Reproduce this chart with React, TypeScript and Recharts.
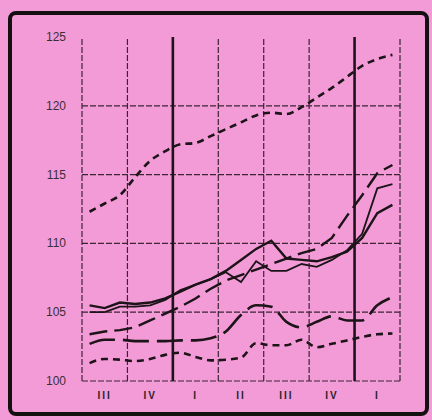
import React from 'react';
import { LineChart, Line, XAxis, YAxis, ReferenceLine } from 'recharts';

// 21 months, Q3 of year 1 through Q1 of year 3
const months = ['Jul','Aug','Sep','Oct','Nov','Dec','Jan','Feb','Mar','Apr','May','Jun','Jul','Aug','Sep','Oct','Nov','Dec','Jan','Feb','Mar'];
const quarterLabels = ['III', 'IV', 'I', 'II', 'III', 'IV', 'I'];
const quarterTicks = [1.5, 4.5, 7.5, 10.5, 13.5, 16.5, 19.5];
const quarterBounds = [0, 3, 9, 12, 15, 21];
const yearBounds = [6, 18];
const yTicks = [100, 105, 110, 115, 120, 125];
const hGrid = [100, 105, 110, 115, 120];

const seriesTop = [112.3,112.9,113.5,114.8,116.0,116.7,117.2,117.3,117.8,118.3,118.8,119.3,119.5,119.4,119.9,120.6,121.3,122.1,122.9,123.4,123.7];
const seriesLongDash = [103.4,103.6,103.7,103.9,104.4,104.9,105.4,106.0,106.7,107.3,107.7,108.1,108.5,108.9,109.3,109.6,110.4,112.0,113.5,115.1,115.7];
const seriesSolidP = [105.5,105.3,105.7,105.6,105.7,106.0,106.5,107.0,107.4,108.0,108.8,109.6,110.2,108.9,108.8,108.7,109.0,109.4,110.4,112.2,112.8];
const seriesSolidQ = [105.0,105.0,105.4,105.4,105.5,105.9,106.6,107.0,107.4,107.9,107.2,108.7,108.0,108.0,108.5,108.3,108.8,109.5,110.7,114.0,114.3];
const seriesDashDot = [102.7,103.0,103.0,102.9,102.9,102.9,102.95,102.95,103.1,103.6,104.8,105.5,105.4,104.3,103.9,104.3,104.7,104.4,104.4,105.5,106.1];
const seriesBottom = [101.3,101.6,101.55,101.45,101.6,101.9,102.05,101.75,101.5,101.55,101.7,102.75,102.6,102.6,103.0,102.45,102.7,102.95,103.2,103.4,103.45];

const data = months.map((m, i) => ({
  month: m,
  x: i + 0.5,
  top: seriesTop[i],
  longDash: seriesLongDash[i],
  p: seriesSolidP[i],
  q: seriesSolidQ[i],
  dashDot: seriesDashDot[i],
  bottom: seriesBottom[i],
}));

const ink = '#1c1418';
const gridInk = '#3b2434';

const QuarterTick = (props: any) => {
  const { x, y, payload } = props;
  const label = quarterLabels[quarterTicks.indexOf(payload.value)];
  return (
    <text x={x} y={y + 10} textAnchor="middle" fill="#2b2329" fontSize={10} fontWeight="bold" fontFamily="Liberation Sans" letterSpacing={2}>
      {label}
    </text>
  );
};

const ValueTick = (props: any) => {
  const { x, y, payload } = props;
  return (
    <text x={x} y={y + 4} textAnchor="end" fill="#3a2e36" fontSize={12} fontFamily="Liberation Sans">
      {payload.value}
    </text>
  );
};

export default function App() {
  return (
    <div style={{ position: 'absolute', left: 0, top: 0, width: 432, height: 420, background: '#f39bd6', overflow: 'hidden' }}>
      <div style={{ position: 'absolute', left: 8, top: 11, width: 421, height: 405, boxSizing: 'border-box', border: '4px solid #141012', borderRadius: 8 }} />
      <div style={{ position: 'absolute', left: 0, top: 0 }}>
        <LineChart width={432} height={420} data={data} margin={{ top: 37, right: 32, bottom: 9, left: 0 }}>
          <XAxis
            type="number"
            dataKey="x"
            domain={[0, 21]}
            ticks={quarterTicks}
            axisLine={false}
            tickLine={false}
            height={30}
            tick={<QuarterTick />}
            interval={0}
          />
          <YAxis
            type="number"
            domain={[100, 125]}
            ticks={yTicks}
            width={82}
            axisLine={false}
            tickLine={false}
            tickMargin={10}
            tick={<ValueTick />}
            interval={0}
          />
          {hGrid.map((v) => (
            <ReferenceLine key={'h' + v} y={v} stroke={gridInk} strokeWidth={1.2} strokeDasharray="6 2" ifOverflow="extendDomain" />
          ))}
          {quarterBounds.map((v) => (
            <ReferenceLine key={'q' + v} x={v} stroke={gridInk} strokeWidth={1.2} strokeDasharray="6 2" />
          ))}
          {yearBounds.map((v) => (
            <ReferenceLine key={'y' + v} x={v} stroke={ink} strokeWidth={2.6} />
          ))}
          <Line type="monotone" dataKey="top" stroke={ink} strokeWidth={2.6} strokeDasharray="7 5" dot={false} isAnimationActive={false} />
          <Line type="linear" dataKey="longDash" stroke={ink} strokeWidth={2.4} strokeDasharray="18 7" dot={false} isAnimationActive={false} />
          <Line type="linear" dataKey="p" stroke={ink} strokeWidth={2.4} dot={false} isAnimationActive={false} />
          <Line type="linear" dataKey="q" stroke={ink} strokeWidth={1.8} dot={false} isAnimationActive={false} />
          <Line type="monotone" dataKey="dashDot" stroke={ink} strokeWidth={2.6} strokeDasharray="26 8" dot={false} isAnimationActive={false} />
          <Line type="monotone" dataKey="bottom" stroke={ink} strokeWidth={2.6} strokeDasharray="7 5" dot={false} isAnimationActive={false} />
        </LineChart>
      </div>
    </div>
  );
}
